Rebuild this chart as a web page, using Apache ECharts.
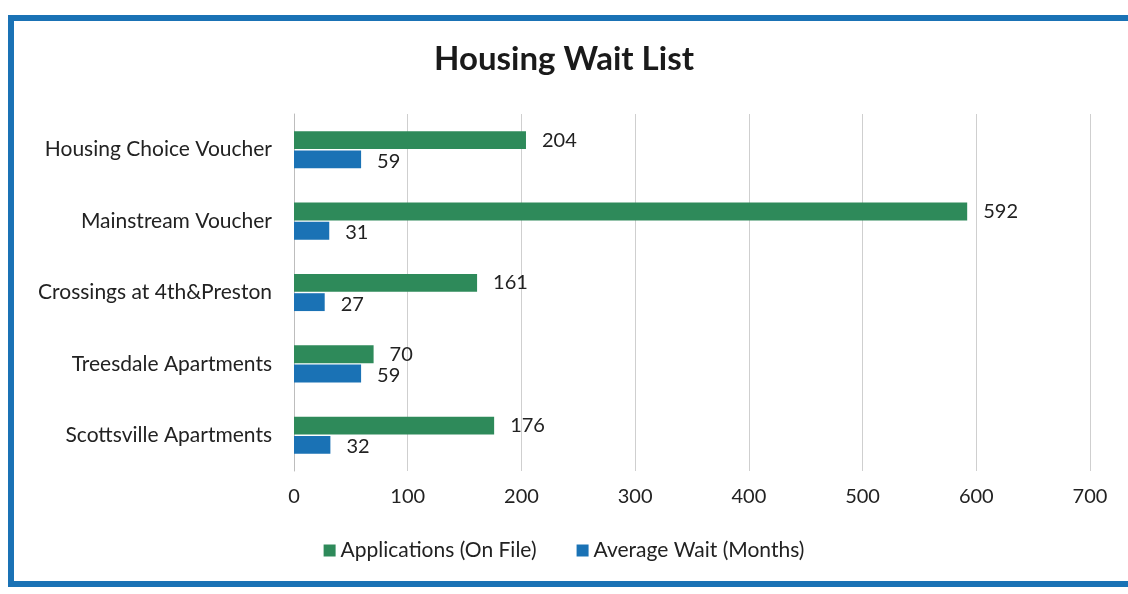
<!DOCTYPE html>
<html>
<head>
<meta charset="utf-8">
<script src="https://cdn.jsdelivr.net/npm/echarts@6/dist/echarts.min.js"></script>
<style>
  html, body { margin: 0; padding: 0; background: #fff; }
  #frame {
    position: absolute; left: 8px; top: 15px; width: 1130px; height: 572px;
    border: 6px solid #1a72b5; box-sizing: border-box; border-right: none;
  }
  #chart { position: absolute; left: 0; top: 0; width: 1128px; height: 594px; }
</style>
</head>
<body>
<div id="frame"></div>
<div id="chart"></div>
<script>
// categories, top to bottom
const categories = ['Housing Choice Voucher', 'Mainstream Voucher', 'Crossings at 4th&Preston', 'Treesdale Apartments', 'Scottsville Apartments']
const applications = [204, 592, 161, 70, 176]
const averageWait = [59, 31, 27, 59, 32]

const font = 'Lato, "Open Sans", sans-serif'

let chart = echarts.init(document.getElementById('chart'))
const option = {
  animation: false,
  title: {
    text: 'Housing Wait List',
    left: 'center',
    top: 38,
    textStyle: { fontFamily: font, fontSize: 33, fontWeight: 'bold', color: '#1a1a1a' }
  },
  legend: {
    bottom: 28,
    left: 'center',
    itemWidth: 12,
    itemHeight: 12,
    itemGap: 40,
    icon: 'rect',
    textStyle: { fontFamily: font, fontSize: 21, color: '#222' },
    data: ['Applications (On File)', 'Average Wait (Months)']
  },
  grid: { left: 294, right: 38, top: 114, bottom: 123 },
  xAxis: {
    type: 'value',
    min: 0,
    max: 700,
    interval: 100,
    axisLine: { show: false },
    axisTick: { show: false },
    splitLine: { lineStyle: { color: '#cfcfcf' } },
    axisLabel: { margin: 16, fontFamily: font, fontSize: 20, color: '#222' }
  },
  yAxis: {
    type: 'category',
    inverse: true,
    data: categories,
    axisLine: { lineStyle: { color: '#bdbdbd' } },
    axisTick: { show: false },
    axisLabel: { margin: 22, fontFamily: font, fontSize: 21, color: '#222' }
  },
  series: [
    {
      name: 'Applications (On File)',
      type: 'bar',
      data: applications,
      barGap: '8%',
      barCategoryGap: '48%',
      itemStyle: { color: '#2e8a5a' },
      label: { show: true, position: 'right', distance: 16, fontFamily: font, fontSize: 20, color: '#222' }
    },
    {
      name: 'Average Wait (Months)',
      type: 'bar',
      data: averageWait,
      itemStyle: { color: '#1a72b5' },
      label: { show: true, position: 'right', distance: 16, fontFamily: font, fontSize: 20, color: '#222', offset: [0, 2] }
    }
  ]
}
chart.setOption(option, true)
</script>
</body>
</html>
